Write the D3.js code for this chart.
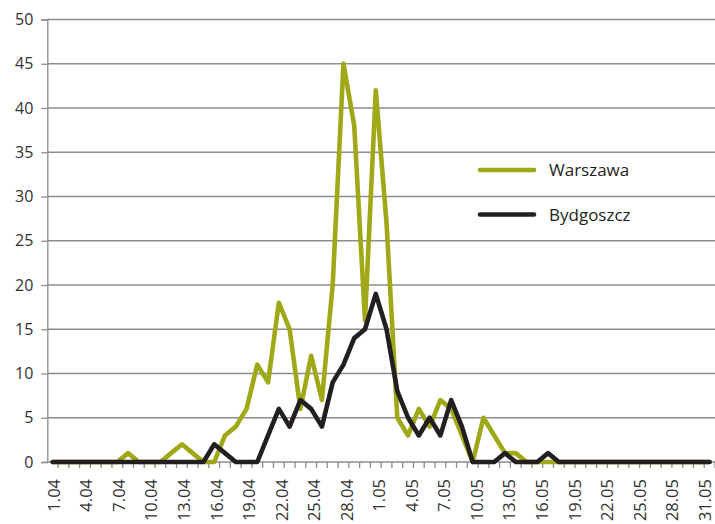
<!DOCTYPE html>
<html>
<head>
<meta charset="utf-8">
<script src="https://cdn.jsdelivr.net/npm/d3@7/dist/d3.min.js"></script>
<style>
  body { margin: 0; background: #fff; }
  svg { display: block; font-family: "Open Sans", sans-serif; }
</style>
</head>
<body>
<div id="chart"></div>
<script>
//categories (days), one label every 3rd day
const dates = [
  "1.04","2.04","3.04","4.04","5.04","6.04","7.04","8.04","9.04","10.04",
  "11.04","12.04","13.04","14.04","15.04","16.04","17.04","18.04","19.04","20.04",
  "21.04","22.04","23.04","24.04","25.04","26.04","27.04","28.04","29.04","30.04",
  "1.05","2.05","3.05","4.05","5.05","6.05","7.05","8.05","9.05","10.05",
  "11.05","12.05","13.05","14.05","15.05","16.05","17.05","18.05","19.05","20.05",
  "21.05","22.05","23.05","24.05","25.05","26.05","27.05","28.05","29.05","30.05",
  "31.05","1.06"
];

//tick labels shown under the axis
const tickLabels = [
  "1.04","4.04","7.04","10.04","13.04","16.04","19.04","22.04","25.04","28.04",
  "1.05","4.05","7.05","10.05","13.05","16.05","19.05","22.05","25.05","28.05","31.05"
];

//series values
const warszawa = [
  0,0,0,0,0,0,0,1,0,0,
  0,1,2,1,0,0,3,4,6,11,
  9,18,15,6,12,7,20,45,38,16,
  42,27,5,3,6,4,7,6,3,0,
  5,3,1,1,0,0,0,0,0,0,
  0,0,0,0,0,0,0,0,0,0,
  0,0
];
const bydgoszcz = [
  0,0,0,0,0,0,0,0,0,0,
  0,0,0,0,0,2,1,0,0,0,
  3,6,4,7,6,4,9,11,14,15,
  19,15,8,5,3,5,3,7,4,0,
  0,0,1,0,0,0,1,0,0,0,
  0,0,0,0,0,0,0,0,0,0,
  0,0
];

const yTicks = [0, 5, 10, 15, 20, 25, 30, 35, 40, 45, 50];

const series = [
  { name: "Warszawa", values: warszawa, color: "#9fa816" },
  { name: "Bydgoszcz", values: bydgoszcz, color: "#231f20" }
];

const width = 715;
const height = 524;
const plotLeft = 47.3;
const plotTop = 19.5;
const plotBottom = 462;

var svg = d3.select("#chart").append("svg")
  .attr("width", width)
  .attr("height", height);

var x = d3.scaleBand()
  .domain(dates)
  .range([plotLeft, width])
  .paddingInner(0)
  .paddingOuter(0);

//labels sit slightly wider apart than the points in the original
var xLabel = d3.scalePoint()
  .domain(tickLabels)
  .range([54, 705]);

var y = d3.scaleLinear()
  .domain([0, 50])
  .range([plotBottom, plotTop]);

/*----------------------
GRID AND AXES
----------------------*/
svg.append("g")
  .selectAll("line")
  .data(yTicks.filter(t => t > 0))
  .join("line")
    .attr("x1", plotLeft)
    .attr("x2", width)
    .attr("y1", d => y(d))
    .attr("y2", d => y(d))
    .attr("stroke", "#8c8c8c")
    .attr("stroke-width", 1.3);

//y axis
var yAxis = svg.append("g")
  .attr("transform", `translate(${plotLeft},0)`)
  .call(d3.axisLeft(y).tickValues(yTicks).tickSize(6).tickPadding(8));
yAxis.select(".domain").attr("stroke", "#8c8c8c").attr("stroke-width", 1.3);
yAxis.selectAll(".tick line").attr("stroke", "#8c8c8c").attr("stroke-width", 1.3);
yAxis.selectAll(".tick text")
  .attr("fill", "#333")
  .style("font-size", "16px")
  .style("font-family", "'Open Sans', sans-serif");

//x axis: ticks between categories
svg.append("line")
  .attr("x1", plotLeft)
  .attr("x2", width)
  .attr("y1", plotBottom)
  .attr("y2", plotBottom)
  .attr("stroke", "#8c8c8c")
  .attr("stroke-width", 1.3);

svg.append("g")
  .selectAll("line")
  .data(dates)
  .join("line")
    .attr("x1", d => x(d) + x.bandwidth())
    .attr("x2", d => x(d) + x.bandwidth())
    .attr("y1", plotBottom)
    .attr("y2", plotBottom + 6)
    .attr("stroke", "#8c8c8c")
    .attr("stroke-width", 1.3);

svg.append("g")
  .selectAll("text")
  .data(tickLabels)
  .join("text")
    .attr("transform", d => `translate(${xLabel(d)},479) rotate(-90)`)
    .attr("text-anchor", "end")
    .attr("dy", "0.35em")
    .attr("fill", "#333")
    .style("font-size", "16.5px")
    .text(d => d);

/*----------------------
LINES
----------------------*/
var line = d3.line()
  .x((d, i) => x(dates[i]) + x.bandwidth() / 2)
  .y(d => y(d));

svg.append("g")
  .selectAll("path")
  .data(series)
  .join("path")
    .attr("d", d => line(d.values))
    .attr("fill", "none")
    .attr("stroke", d => d.color)
    .attr("stroke-width", 4.6)
    .attr("stroke-linejoin", "round")
    .attr("stroke-linecap", "round");

/*----------------------
LEGEND
----------------------*/
var legend = svg.append("g")
  .selectAll("g")
  .data(series)
  .join("g")
    .attr("transform", (d, i) => `translate(480,${170 + i * 44.5})`);

legend.append("line")
  .attr("x1", 0)
  .attr("x2", 54)
  .attr("stroke", d => d.color)
  .attr("stroke-width", 4.6)
  .attr("stroke-linecap", "round");

legend.append("text")
  .attr("x", 69)
  .attr("dy", "0.36em")
  .attr("fill", "#231f20")
  .style("font-size", "17px")
  .text(d => d.name);
</script>
</body>
</html>
